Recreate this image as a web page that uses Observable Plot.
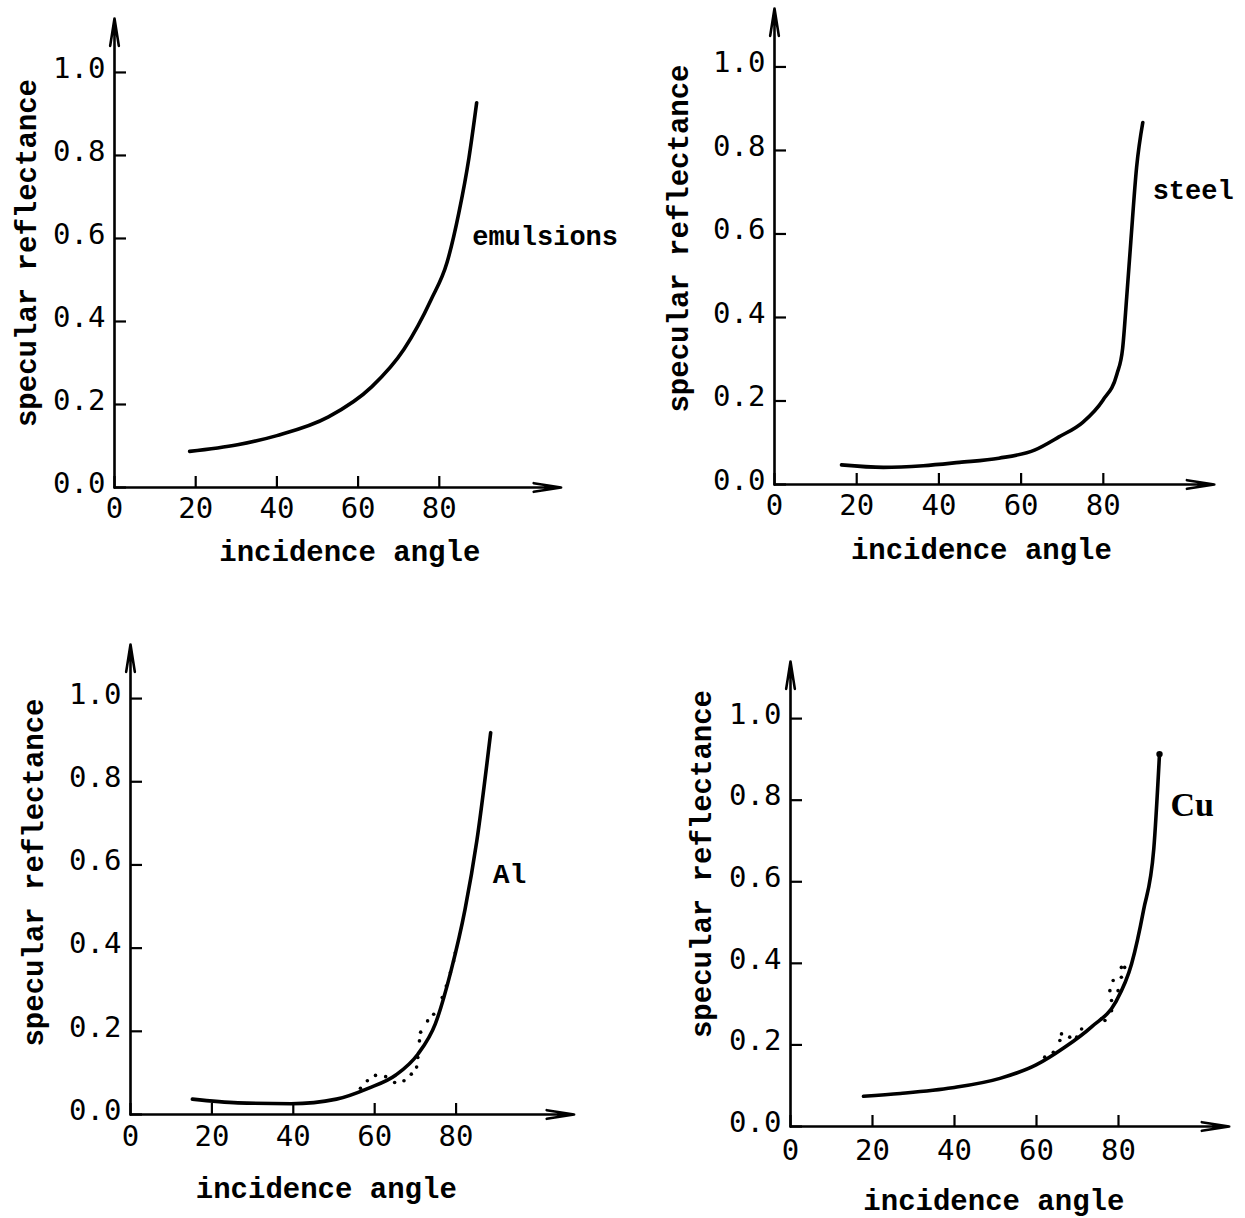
<!DOCTYPE html>
<html><head><meta charset="utf-8">
<script src="https://cdn.jsdelivr.net/npm/d3@7"></script>
<script src="https://cdn.jsdelivr.net/npm/@observablehq/plot@0.6"></script>
<style>
html,body{margin:0;padding:0;background:#fff;}
#root{position:relative;width:1245px;height:1218px;overflow:hidden;background:#fff;}
.panel{position:absolute;}
.panel svg{overflow:visible;}
</style></head><body><div id="root"></div>
<script>
// ---- shared axis content ----
const xTicks = [0, 20, 40, 60, 80];
const yTicks = [0, 0.2, 0.4, 0.6, 0.8, 1.0];
const xTitle = "incidence angle";
const yTitle = "specular reflectance";

// ---- series ----
const emulsionsX = [18.5, 30.3, 40, 52.7, 63.4, 71.3, 78, 81.9, 84.8, 87.3, 89.2];
const emulsionsY = [0.087, 0.103, 0.125, 0.17, 0.243, 0.333, 0.453, 0.542, 0.661, 0.794, 0.927];

const steelX = [16.3, 26.5, 36.2, 45, 54.6, 63.4, 69.2, 75, 79.9, 83.3, 84.7, 85.7, 86.7, 88.1, 89.6];
const steelY = [0.047, 0.041, 0.045, 0.053, 0.063, 0.083, 0.114, 0.149, 0.202, 0.264, 0.326, 0.45, 0.583, 0.76, 0.867];

const alX = [15.2, 26.4, 39.5, 50.6, 58.4, 65.2, 70.6, 74.9, 78.8, 82.2, 85.1, 88.5];
const alY = [0.037, 0.028, 0.026, 0.037, 0.063, 0.095, 0.145, 0.218, 0.347, 0.493, 0.658, 0.918];
const alDotsX = [56.5, 58.2, 60.2, 62.7, 64.9, 67.2, 69, 70.3, 70.6, 71, 71.3, 73, 74.5, 76.6, 77.6, 78.6, 79.4, 79.8];
const alDotsY = [0.063, 0.081, 0.094, 0.091, 0.077, 0.081, 0.097, 0.114, 0.137, 0.177, 0.198, 0.225, 0.241, 0.281, 0.309, 0.341, 0.369, 0.389];

const cuX = [17.8, 26.8, 39.5, 51.1, 59.9, 66.7, 73.5, 79.3, 83.2, 86.1, 88.6, 90];
const cuY = [0.074, 0.081, 0.095, 0.118, 0.151, 0.193, 0.245, 0.305, 0.399, 0.53, 0.68, 0.913];
const cuDotsX = [62, 64.1, 65.7, 66.1, 68.1, 69.8, 71, 75.9, 76.7, 78.3, 78.3, 79.9, 80.7, 81.5, 77.9, 78.7, 80.7];
const cuDotsY = [0.17, 0.182, 0.211, 0.227, 0.219, 0.219, 0.239, 0.264, 0.26, 0.284, 0.309, 0.333, 0.366, 0.39, 0.333, 0.358, 0.39];

// ---- curve labels ----
const labelNames = ["emulsions", "steel", "Al", "Cu"];
const labelX = [88.1, 92, 89, 92.7];
const labelY = [0.605, 0.704, 0.579, 0.787];

// ---- axis extents (arrow ends) ----
const axisXMax = [110, 107, 109, 107];
const axisYMax = [1.13, 1.14, 1.13, 1.14];

const rows = (xs, ys) => xs.map((x, i) => ({x, y: ys[i]}));

const panels = [
  {line: rows(emulsionsX, emulsionsY), dots: [], endDot: false},
  {line: rows(steelX, steelY), dots: [], endDot: false},
  {line: rows(alX, alY), dots: rows(alDotsX, alDotsY), endDot: false},
  {line: rows(cuX, cuY), dots: rows(cuDotsX, cuDotsY), endDot: true}
];

// layout (pixels)
const layouts = [
  {left: 0,   top: 0,   width: 622, height: 600, mL: 114, mR: 61.4, mT: 18, mB: 113, xtDx: 12,  xtDy: 64, ytDx: -88, ytDy: 0,   gap: 10, labelFont: "Liberation Mono", labelWeight: "bold", labelSize: 27},
  {left: 622, top: 0,   width: 623, height: 600, mL: 152, mR: 31.2, mT: 8,  mB: 116, xtDx: -13, xtDy: 65, ytDx: -96, ytDy: -8,  gap: 10, labelFont: "Liberation Mono", labelWeight: "bold", labelSize: 27},
  {left: 0,   top: 600, width: 622, height: 618, mL: 130, mR: 48.4, mT: 44, mB: 104, xtDx: -26, xtDy: 74, ytDx: -97, ytDy: -7,  gap: 11, labelFont: "Liberation Mono", labelWeight: "bold", labelSize: 28},
  {left: 622, top: 600, width: 623, height: 618, mL: 168, mR: 16.3, mT: 61, mB: 92,  xtDx: -16, xtDy: 74, ytDx: -89, ytDy: -30, gap: 13, labelFont: "Liberation Serif", labelWeight: "bold", labelSize: 34}
];

const root = document.getElementById("root");

panels.forEach((p, i) => {
  const L = layouts[i];
  const axes = [
    {x1: 0, y1: 0, x2: axisXMax[i], y2: 0},
    {x1: 0, y1: 0, x2: 0, y2: axisYMax[i]}
  ];
  const marks = [
    Plot.arrow(axes, {x1: "x1", y1: "y1", x2: "x2", y2: "y2", stroke: "black", strokeWidth: 2.6, headLength: 16, headAngle: 18}),
    // inward tick marks
    Plot.axisY(yTicks, {tickSize: -12, tickFormat: () => "", strokeWidth: 2.2, label: null}),
    // y tick labels, slightly above their ticks
    Plot.axisY(yTicks, {tickSize: 0, tickPadding: 9, dy: -4, tickFormat: d => d.toFixed(1), fontSize: 29, fontFamily: "DejaVu Sans Mono", label: null}),
    Plot.axisX(xTicks, {tickSize: -11, tickPadding: 11 + L.gap, tickFormat: d => String(d), fontSize: 29, fontFamily: "DejaVu Sans Mono", strokeWidth: 2.2, label: null}),
    Plot.line(p.line, {x: "x", y: "y", curve: "monotone-x", stroke: "black", strokeWidth: 3.6}),
    Plot.dot(p.dots, {x: "x", y: "y", r: 1.8, fill: "black", stroke: null}),
    Plot.text([labelNames[i]], {x: () => labelX[i], y: () => labelY[i], text: d => d, textAnchor: "start", fontSize: L.labelSize, fontFamily: L.labelFont, fontWeight: L.labelWeight, fill: "black"}),
    Plot.text([xTitle], {frameAnchor: "bottom", lineAnchor: "middle", textAnchor: "middle", dx: L.xtDx, dy: L.xtDy, text: d => d, fontSize: 29, fontFamily: "Liberation Mono", fontWeight: "bold", fill: "black"}),
    Plot.text([yTitle], {frameAnchor: "left", rotate: -90, lineAnchor: "middle", textAnchor: "middle", dx: L.ytDx, dy: L.ytDy, text: d => d, fontSize: 29, fontFamily: "Liberation Mono", fontWeight: "bold", fill: "black"})
  ];
  if (p.endDot) {
    marks.push(Plot.dot([p.line[p.line.length - 1]], {x: "x", y: "y", r: 3.2, fill: "black"}));
  }
  const chart = Plot.plot({
    width: L.width,
    height: L.height,
    marginLeft: L.mL,
    marginRight: L.mR,
    marginTop: L.mT,
    marginBottom: L.mB,
    x: {domain: [0, axisXMax[i]]},
    y: {domain: [0, axisYMax[i]]},
    style: {background: "transparent", color: "black", fontFamily: "DejaVu Sans Mono"},
    marks
  });
  const div = document.createElement("div");
  div.className = "panel";
  div.style.left = L.left + "px";
  div.style.top = L.top + "px";
  div.appendChild(chart);
  root.appendChild(div);
});
</script>
</body></html>
